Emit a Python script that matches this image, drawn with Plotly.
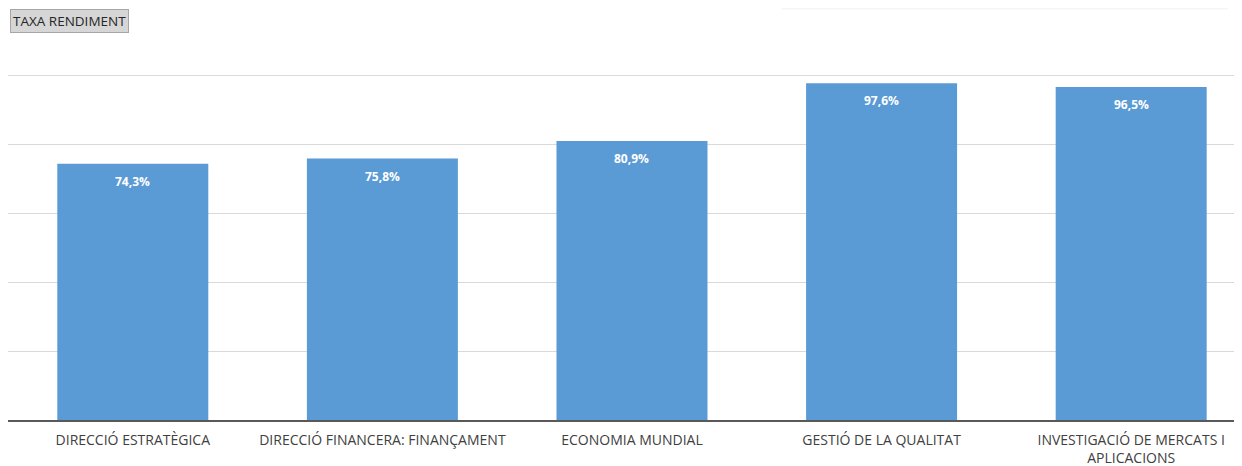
import plotly.graph_objects as go

categories = ["DIRECCIÓ ESTRATÈGICA", "DIRECCIÓ FINANCERA: FINANÇAMENT", "ECONOMIA MUNDIAL",
              "GESTIÓ DE LA QUALITAT", "INVESTIGACIÓ DE MERCATS I<br>APLICACIONS"]
values = [74.3, 75.8, 80.9, 97.6, 96.5]
labels = ["74,3%", "75,8%", "80,9%", "97,6%", "96,5%"]

fig = go.Figure()
fig.add_trace(go.Bar(
    x=categories, y=values,
    marker=dict(color="#5B9BD5", line=dict(width=0)),
    width=0.605, hoverinfo="skip",
))

annotations = [dict(x=c, y=v, text=f"<b>{t}</b>", xref="x", yref="y", showarrow=False,
                    yanchor="top", yshift=-7,
                    font=dict(color="white", size=12, family="Open Sans"))
               for c, v, t in zip(categories, values, labels)]
annotations.append(dict(text="TAXA RENDIMENT", xref="paper", yref="paper",
                        x=0.0015, y=1.0, xanchor="left", yanchor="bottom", yshift=41,
                        showarrow=False, bgcolor="#D6D6D6", bordercolor="#A6A6A6",
                        borderwidth=1, borderpad=2,
                        font=dict(size=13.5, color="#262626", family="Open Sans")))

fig.update_layout(
    width=1234, height=466,
    margin=dict(l=0, r=2, t=66, b=54, autoexpand=False),
    paper_bgcolor="white", plot_bgcolor="white",
    showlegend=False,
    font=dict(family="Open Sans", size=12, color="#404040"),
    xaxis=dict(range=[-0.5, 4.436], showgrid=False, showline=True, linecolor="#595959",
               linewidth=2, ticks="", automargin=False, ticklabelstandoff=6,
               tickfont=dict(size=14, color="#404040", family="Open Sans")),
    yaxis=dict(range=[0, 100.3], showgrid=True, gridcolor="#D9D9D9", gridwidth=1,
               dtick=20, showticklabels=False, zeroline=False, showline=False,
               automargin=False),
    annotations=annotations,
    shapes=[dict(type="line", xref="paper", yref="paper",
                 x0=(782 - 8) / 1232, x1=(1228 - 8) / 1232,
                 y0=(420 - 8) / 346, y1=(420 - 8) / 346,
                 line=dict(color="#F5F5F5", width=3))],
)

fig.write_html("out.html")
